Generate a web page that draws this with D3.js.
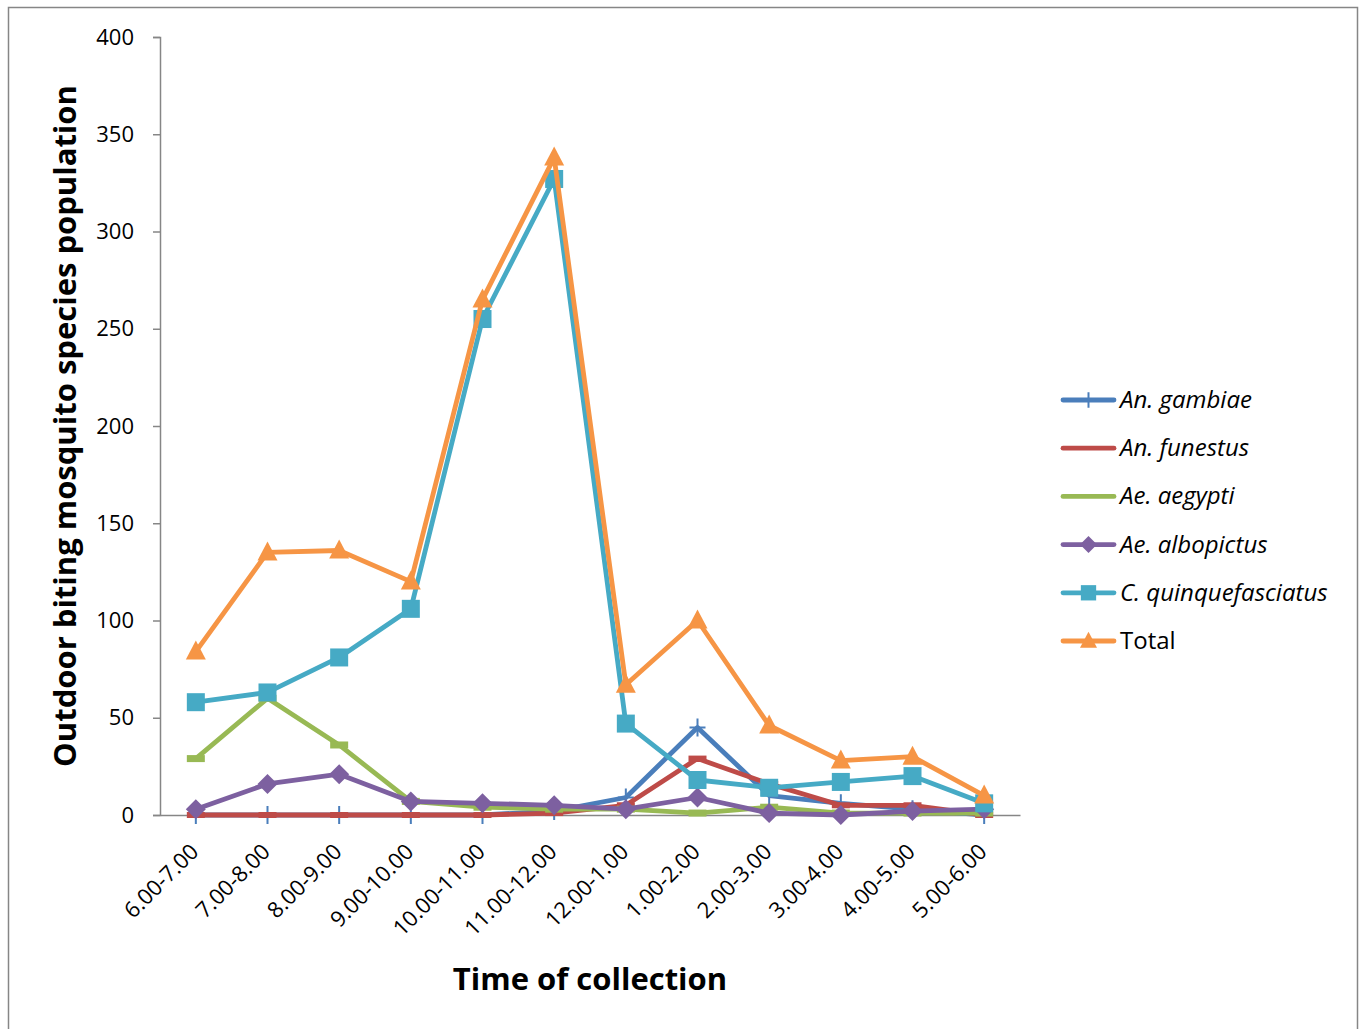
<!DOCTYPE html>
<html>
<head>
<meta charset="utf-8">
<script src="https://cdn.jsdelivr.net/npm/d3@7"></script>
<style>
  html, body { margin: 0; padding: 0; background: #fff; }
  svg { display: block; }
  text { font-family: "Open Sans", "Noto Sans", sans-serif; }
</style>
</head>
<body>
<svg id="chart" width="1364" height="1029"></svg>
<script>
// Collection time slots (hourly, evening to morning)
const categories = ["6.00-7.00", "7.00-8.00", "8.00-9.00", "9.00-10.00", "10.00-11.00", "11.00-12.00",
                    "12.00-1.00", "1.00-2.00", "2.00-3.00", "3.00-4.00", "4.00-5.00", "5.00-6.00"];

// Outdoor catch per species for each slot
const anGambiae         = [0, 0, 0, 0, 0, 2, 9, 45, 10, 6, 3, 0];
const anFunestus        = [0, 0, 0, 0, 0, 1, 5, 29, 16, 5, 5, 0];
const aeAegypti         = [29, 60, 36, 7, 4, 3, 3, 1, 4, 1, 1, 1];
const aeAlbopictus      = [3, 16, 21, 7, 6, 5, 3, 9, 1, 0, 2, 3];
const cQuinquefasciatus = [58, 63, 81, 106, 255, 327, 47, 18, 14, 17, 20, 6];
const total             = [84, 135, 136, 120, 265, 338, 67, 100, 46, 28, 30, 10];

const seriesNames = ["An. gambiae", "An. funestus", "Ae. aegypti", "Ae. albopictus", "C. quinquefasciatus", "Total"];
const yTicks = [0, 50, 100, 150, 200, 250, 300, 350, 400];

const series = [
  { name: seriesNames[0], values: anGambiae,  color: "#4A7EBB", marker: "plus",     italic: true },
  { name: seriesNames[1], values: anFunestus, color: "#BE4B48", marker: "dash",     italic: true },
  { name: seriesNames[2], values: aeAegypti,  color: "#98B954", marker: "bar",      italic: true },
  { name: seriesNames[3], values: aeAlbopictus, color: "#7D60A0", marker: "diamond", italic: true },
  { name: seriesNames[4], values: cQuinquefasciatus, color: "#46AAC5", marker: "square", italic: true },
  { name: seriesNames[5], values: total,      color: "#F69545", marker: "triangle", italic: false }
];

const svg = d3.select("#chart");

// outer frame
svg.append("rect")
  .attr("x", 8.5).attr("y", 7.5).attr("width", 1349).attr("height", 1030)
  .attr("fill", "none").attr("stroke", "#868686").attr("stroke-width", 1.5);

const plot = { left: 160, right: 1020, top: 37, bottom: 815 };

const x = d3.scaleBand().domain(categories).range([plot.left, plot.right]);
const y = d3.scaleLinear().domain([0, 400]).range([plot.bottom, plot.top]);
const cx = c => x(c) + x.bandwidth() / 2;

// y axis
const yAxis = svg.append("g")
  .attr("transform", `translate(${plot.left},0)`)
  .call(d3.axisLeft(y).tickValues(yTicks).tickSize(7).tickPadding(19));
yAxis.select(".domain").attr("stroke", "#868686").attr("stroke-width", 1.5);
yAxis.selectAll(".tick line").attr("stroke", "#868686").attr("stroke-width", 1.5);
yAxis.selectAll(".tick text").attr("font-size", 22).attr("fill", "#000")
  .attr("font-family", "'Open Sans', sans-serif");

// x axis
const xAxis = svg.append("g")
  .attr("transform", `translate(0,${plot.bottom})`)
  .call(d3.axisBottom(x).tickSize(0).tickPadding(0));
xAxis.select(".domain").attr("stroke", "#868686").attr("stroke-width", 1.5);
xAxis.selectAll(".tick text")
  .attr("font-size", 22).attr("fill", "#000")
  .attr("font-family", "'Open Sans', sans-serif")
  .attr("text-anchor", "end")
  .attr("dy", 0)
  .attr("transform", "translate(4,38) rotate(-45)");

// axis titles
svg.append("text")
  .attr("transform", `translate(76,426) rotate(-90)`)
  .attr("text-anchor", "middle")
  .attr("font-size", 31).attr("font-weight", "bold").attr("fill", "#000")
  .text("Outdoor biting mosquito species population");

svg.append("text")
  .attr("x", 590).attr("y", 990)
  .attr("text-anchor", "middle")
  .attr("font-size", 31).attr("font-weight", "bold").attr("fill", "#000")
  .text("Time of collection");

// marker painter
function drawMarker(g, type, color, px, py, scale = 1) {
  const s = scale;
  switch (type) {
    case "plus":
      g.append("path")
        .attr("d", `M${px - 8 * s},${py}H${px + 8 * s}M${px},${py - 9 * s}V${py + 9 * s}`)
        .attr("stroke", color).attr("stroke-width", 2).attr("fill", "none");
      break;
    case "dash":
      g.append("rect")
        .attr("x", px - 9 * s).attr("y", py - 3).attr("width", 18 * s).attr("height", 6)
        .attr("fill", color);
      break;
    case "bar":
      g.append("rect")
        .attr("x", px - 9 * s).attr("y", py - 3.5).attr("width", 18 * s).attr("height", 7)
        .attr("fill", color);
      break;
    case "diamond":
      g.append("path")
        .attr("d", `M${px},${py - 10 * s}L${px + 10 * s},${py}L${px},${py + 10 * s}L${px - 10 * s},${py}Z`)
        .attr("fill", color);
      break;
    case "square":
      g.append("rect")
        .attr("x", px - 9 * s).attr("y", py - 9 * s).attr("width", 18 * s).attr("height", 18 * s)
        .attr("fill", color);
      break;
    case "triangle":
      g.append("path")
        .attr("d", `M${px},${py - 11 * s}L${px + 10 * s},${py + 8 * s}L${px - 10 * s},${py + 8 * s}Z`)
        .attr("fill", color);
      break;
  }
}

const line = d3.line().x((d, i) => cx(categories[i])).y(d => y(d));

series.forEach(s => {
  const g = svg.append("g");
  g.append("path")
    .datum(s.values)
    .attr("d", line)
    .attr("fill", "none")
    .attr("stroke", s.color)
    .attr("stroke-width", 4.8)
    .attr("stroke-linejoin", "round");
  s.values.forEach((v, i) => drawMarker(g, s.marker, s.color, cx(categories[i]), y(v)));
});

// legend
const legend = svg.append("g");
series.forEach((s, i) => {
  const ly = 400 + i * 48.2;
  legend.append("line")
    .attr("x1", 1063).attr("x2", 1114).attr("y1", ly).attr("y2", ly)
    .attr("stroke", s.color).attr("stroke-width", 4.8).attr("stroke-linecap", "round");
  if (s.marker !== "dash" && s.marker !== "bar") {
    drawMarker(legend, s.marker, s.color, 1088.5, ly, 0.85);
  }
  legend.append("text")
    .attr("x", 1120).attr("y", ly + 8)
    .attr("font-size", 24)
    .attr("font-style", s.italic ? "italic" : "normal")
    .attr("fill", "#000")
    .text(s.name);
});
</script>
</body>
</html>
